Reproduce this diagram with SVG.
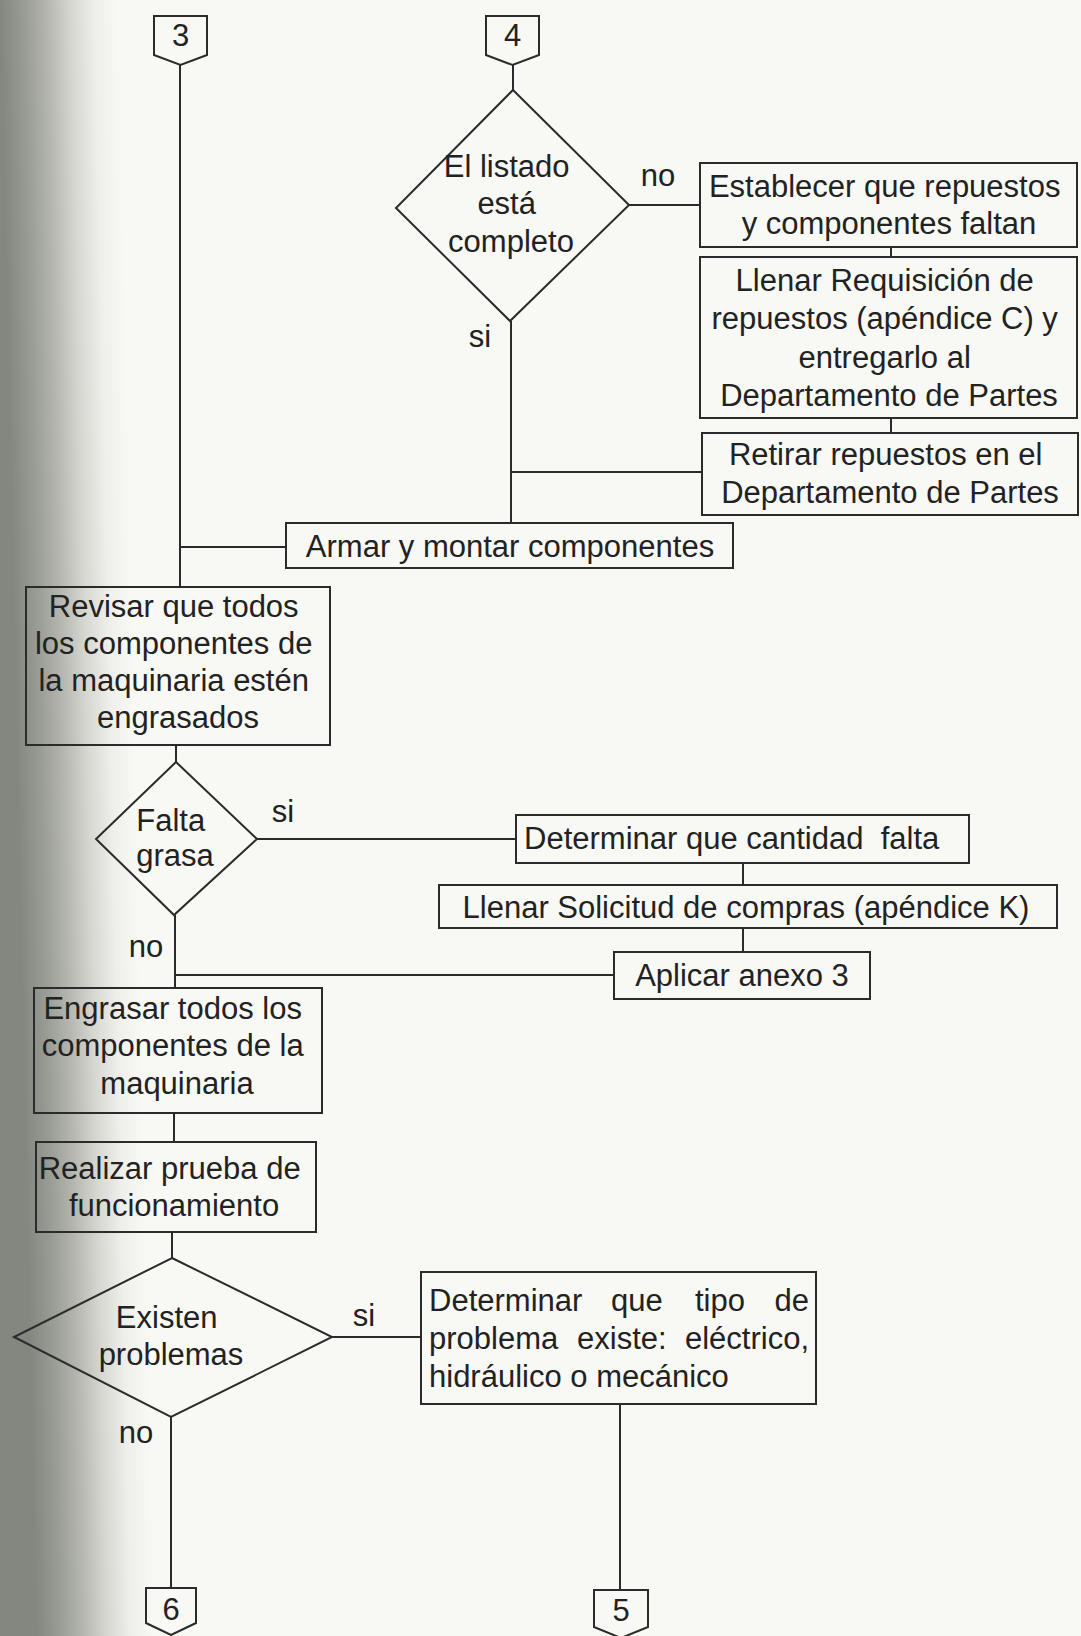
<svg xmlns="http://www.w3.org/2000/svg" width="1081" height="1636" viewBox="0 0 1081 1636">
  <defs>
    <!-- page shadow along the bound edge -->
    <linearGradient id="spine" gradientUnits="userSpaceOnUse" x1="0" y1="0" x2="118" y2="-2.6">
      <stop offset="0" stop-color="#848680"/>
      <stop offset="0.2" stop-color="#999b95"/>
      <stop offset="0.4" stop-color="#b5b6b0"/>
      <stop offset="0.6" stop-color="#d6d7d1"/>
      <stop offset="0.8" stop-color="#eeeeea"/>
      <stop offset="1" stop-color="#f8f8f5"/>
    </linearGradient>
    <style>
      .box { fill: none; stroke: #2b2b2b; stroke-width: 2; }
      .ln  { fill: none; stroke: #2b2b2b; stroke-width: 2; }
      .t   { font-family: "Liberation Sans", Arial, Helvetica, sans-serif; font-size: 31px; fill: #222; }
      .c   { text-anchor: middle; }
      .e   { text-anchor: end; }
    </style>
  </defs>

  <rect x="0" y="0" width="1081" height="1636" fill="#f8f8f5"/>
  <rect x="0" y="0" width="1081" height="1636" fill="url(#spine)"/>

  <!-- connectors -->
  <g id="connectors">
    <path class="ln" d="M180,65 V587"/>
    <path class="ln" d="M180,547 H286"/>
    <path class="ln" d="M513,65 V90"/>
    <path class="ln" d="M629,205 H700"/>
    <path class="ln" d="M891,247 V257"/>
    <path class="ln" d="M891,418 V433"/>
    <path class="ln" d="M511,321 V523"/>
    <path class="ln" d="M511,472 H702"/>
    <path class="ln" d="M176,745 V762"/>
    <path class="ln" d="M257,839 H516"/>
    <path class="ln" d="M743,863 V885"/>
    <path class="ln" d="M743,928 V952"/>
    <path class="ln" d="M175,915 V988"/>
    <path class="ln" d="M175,975 H614"/>
    <path class="ln" d="M174,1113 V1142"/>
    <path class="ln" d="M172,1232 V1258"/>
    <path class="ln" d="M332,1337 H421"/>
    <path class="ln" d="M171,1417 V1588"/>
    <path class="ln" d="M620,1404 V1590"/>
    <text class="t c" x="658" y="186">no</text>
    <text class="t c" x="480" y="347">si</text>
    <text class="t c" x="283" y="822">si</text>
    <text class="t c" x="146" y="957">no</text>
    <text class="t c" x="364" y="1326">si</text>
    <text class="t c" x="136" y="1443">no</text>
  </g>

  <!-- off-page connector 3 -->
  <g id="off3">
    <path class="box" d="M154,16 H207 V55 L180.5,65 L154,55 Z"/>
    <text class="t c" x="180.5" y="46">3</text>
  </g>

  <!-- off-page connector 4 -->
  <g id="off4">
    <path class="box" d="M486,16 H539 V55 L512.5,65 L486,55 Z"/>
    <text class="t c" x="512.5" y="46">4</text>
  </g>

  <!-- decision: list complete -->
  <g id="listado">
    <path class="box" d="M513,90 L629,205 L510,321 L396,208 Z"/>
    <text class="t c" x="511">
      <tspan x="511" y="177">El listado</tspan>
      <tspan x="511" y="214">está</tspan>
      <tspan x="511" y="252">completo</tspan>
    </text>
  </g>

  <g id="establecer">
    <rect class="box" x="700" y="163" width="377" height="84"/>
    <text class="t c">
      <tspan x="889" y="197">Establecer que repuestos</tspan>
      <tspan x="889" y="234">y componentes faltan</tspan>
    </text>
  </g>

  <g id="requisicion">
    <rect class="box" x="700" y="257" width="377" height="161"/>
    <text class="t c">
      <tspan x="889" y="291">Llenar Requisición de</tspan>
      <tspan x="889" y="329">repuestos (apéndice C) y</tspan>
      <tspan x="889" y="368">entregarlo al</tspan>
      <tspan x="889" y="406">Departamento de Partes</tspan>
    </text>
  </g>

  <g id="retirar">
    <rect class="box" x="702" y="433" width="376" height="82"/>
    <text class="t c">
      <tspan x="890" y="465">Retirar repuestos en el</tspan>
      <tspan x="890" y="503">Departamento de Partes</tspan>
    </text>
  </g>

  <g id="armar">
    <rect class="box" x="286" y="523" width="447" height="45"/>
    <text class="t c" x="510" y="557">Armar y montar componentes</text>
  </g>

  <g id="revisar">
    <rect class="box" x="26" y="587" width="304" height="158"/>
    <text class="t c">
      <tspan x="178" y="617">Revisar que todos</tspan>
      <tspan x="178" y="654">los componentes de</tspan>
      <tspan x="178" y="691">la maquinaria estén</tspan>
      <tspan x="178" y="728">engrasados</tspan>
    </text>
  </g>

  <!-- decision: grease missing -->
  <g id="falta">
    <path class="box" d="M176,762 L257,839 L174,915 L96,839 Z"/>
    <text class="t c">
      <tspan x="175" y="831">Falta</tspan>
      <tspan x="175" y="866">grasa</tspan>
    </text>
  </g>

  <g id="cantidad">
    <rect class="box" x="516" y="815" width="453" height="48"/>
    <text class="t" x="524" y="849" xml:space="preserve">Determinar que cantidad  falta</text>
  </g>

  <g id="solicitud">
    <rect class="box" x="439" y="885" width="618" height="43"/>
    <text class="t c" x="746" y="918">Llenar Solicitud de compras (apéndice K)</text>
  </g>

  <g id="anexo">
    <rect class="box" x="614" y="952" width="256" height="47"/>
    <text class="t c" x="742" y="986">Aplicar anexo 3</text>
  </g>

  <g id="engrasar">
    <rect class="box" x="34" y="988" width="288" height="125"/>
    <text class="t c">
      <tspan x="177" y="1019">Engrasar todos los</tspan>
      <tspan x="177" y="1056">componentes de la</tspan>
      <tspan x="177" y="1094">maquinaria</tspan>
    </text>
  </g>

  <g id="prueba">
    <rect class="box" x="36" y="1142" width="280" height="90"/>
    <text class="t c">
      <tspan x="174" y="1179">Realizar prueba de</tspan>
      <tspan x="174" y="1216">funcionamiento</tspan>
    </text>
  </g>

  <!-- decision: problems found -->
  <g id="problemas">
    <path class="box" d="M172,1258 L332,1337 L171,1417 L14,1337 Z"/>
    <text class="t c">
      <tspan x="171" y="1328">Existen</tspan>
      <tspan x="171" y="1365">problemas</tspan>
    </text>
  </g>

  <!-- justified paragraph: words placed one by one -->
  <g id="tipo">
    <rect class="box" x="421" y="1272" width="395" height="132"/>
    <text class="t"><tspan x="429" y="1311">Determinar</tspan><tspan x="611" y="1311">que</tspan><tspan x="695" y="1311">tipo</tspan><tspan class="e" x="809" y="1311">de</tspan><tspan x="429" y="1349">problema</tspan><tspan x="577" y="1349">existe:</tspan><tspan class="e" x="809" y="1349">eléctrico,</tspan><tspan x="429" y="1387">hidráulico o mecánico</tspan></text>
  </g>

  <!-- off-page connector 6 -->
  <g id="off6">
    <path class="box" d="M146,1588 H196 V1623 L171,1635 L146,1623 Z"/>
    <text class="t c" x="171" y="1620">6</text>
  </g>

  <!-- off-page connector 5 -->
  <g id="off5">
    <path class="box" d="M594,1590 H648 V1627 L621,1638 L594,1627 Z"/>
    <text class="t c" x="621" y="1621">5</text>
  </g>
</svg>
